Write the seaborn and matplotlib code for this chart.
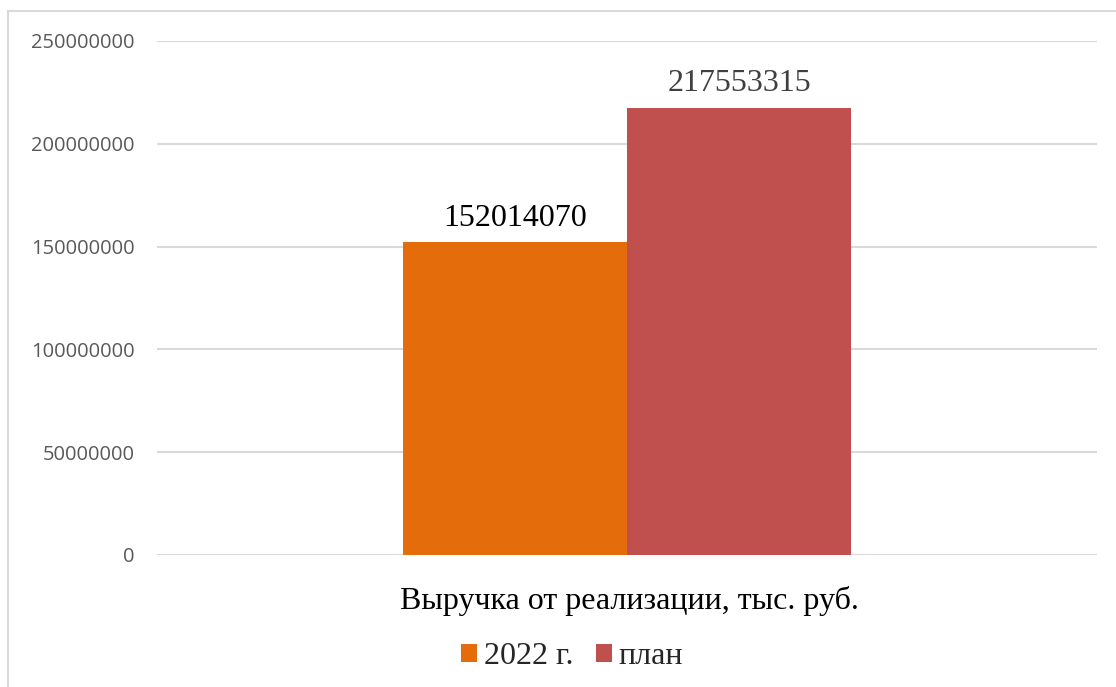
import matplotlib
matplotlib.use("Agg")
import matplotlib.pyplot as plt
from matplotlib.patches import Rectangle, Patch
import seaborn as sns
import pandas as pd

# Data
categories = ["Выручка от реализации, тыс. руб."]
series = ["2022 г.", "план"]
values = [152014070, 217553315]
colors = ["#E46C0A", "#C0504D"]
yticks = [0, 50000000, 100000000, 150000000, 200000000, 250000000]

df = pd.DataFrame({
    "category": categories * len(series),
    "series": series,
    "value": values,
})

sns.set_theme(style="white")
plt.rcParams["font.family"] = ["Open Sans", "DejaVu Sans"]

fig = plt.figure(figsize=(11.16, 6.87), dpi=100)
ax = fig.add_axes([157 / 1116, 1 - 555 / 687, 940 / 1116, 514 / 687])

sns.barplot(data=df, x="category", y="value", hue="series",
            palette=colors, width=0.477, dodge=True, ax=ax,
            saturation=1, legend=False, linewidth=0)

ax.set_ylim(0, 250000000)
ax.set_xlim(-0.5, 0.5)
ax.set_yticks(yticks)
ax.set_yticklabels([str(v) for v in yticks], fontsize=14.5, color="#595959")
ax.tick_params(axis="y", length=0, pad=16)
ax.set_xticks([])
ax.set_xlabel("")
ax.set_ylabel("")
for s in ax.spines.values():
    s.set_visible(False)
ax.yaxis.grid(True, color="#d9d9d9", linewidth=1.5)
ax.set_axisbelow(True)

# Value labels above the bars
label_colors = ["#000000", "#404040"]
for container, col in zip(ax.containers, label_colors):
    ax.bar_label(container, labels=[f"{int(v.get_height())}" for v in container],
                 padding=7, fontsize=23, color=col, family="Liberation Serif")

# Category label under the axis
fig.text(629 / 1116, 1 - 601 / 687, categories[0], ha="center", va="center",
         fontsize=23, family="Liberation Serif", color="#000000")

# Legend
handles = [Patch(facecolor=c, edgecolor="none") for c in colors]
leg = fig.legend(handles, series, loc="center", bbox_to_anchor=(572 / 1116, 1 - 657 / 687),
                 ncol=2, frameon=False, handlelength=0.5, handleheight=0.5,
                 handletextpad=0.22, columnspacing=0.7,
                 prop={"family": "Liberation Serif", "size": 23})

# Outer chart frame
fig.patches.append(Rectangle((8 / 1116, -0.1), 1.2, 1 - 11 / 687 + 0.1,
                             transform=fig.transFigure, fill=False,
                             edgecolor="#d9d9d9", linewidth=1.5))

fig.savefig("out.png", dpi=100)
